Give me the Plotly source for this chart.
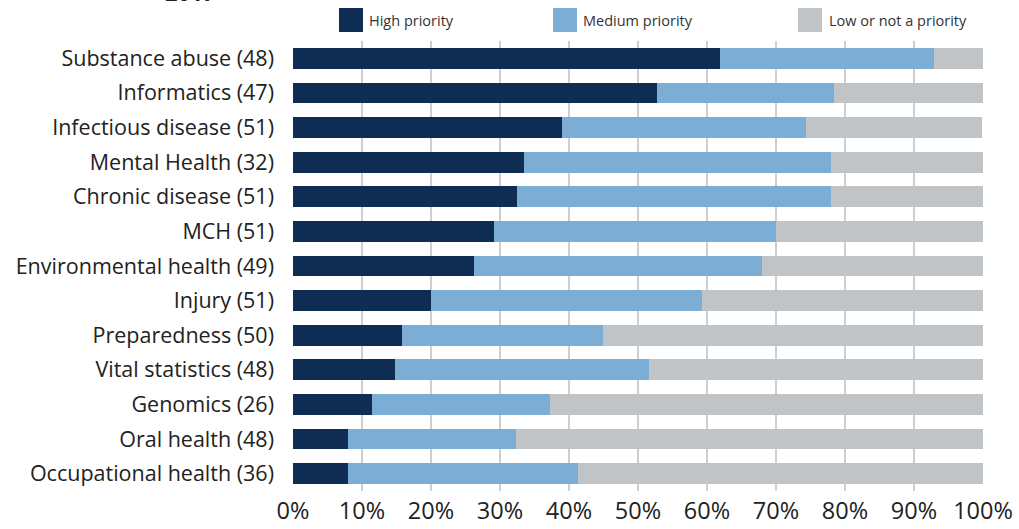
import plotly.graph_objects as go

categories = [
    "Substance abuse (48)", "Informatics (47)", "Infectious disease (51)",
    "Mental Health (32)", "Chronic disease (51)", "MCH (51)",
    "Environmental health (49)", "Injury (51)", "Preparedness (50)",
    "Vital statistics (48)", "Genomics (26)", "Oral health (48)",
    "Occupational health (36)",
]
high = [61.9, 52.8, 39.0, 33.5, 32.5, 29.2, 26.3, 20.0, 15.8, 14.8, 11.5, 8.0, 8.0]
medium = [31.0, 25.6, 35.3, 44.5, 45.5, 40.8, 41.6, 39.3, 29.1, 36.8, 25.8, 24.3, 33.3]
low = [7.1, 21.6, 25.6, 22.0, 22.0, 30.0, 32.1, 40.7, 55.1, 48.4, 62.7, 67.7, 58.7]
series_names = ["High priority", "Medium priority", "Low or not a priority"]
colors = ["#0f2d52", "#7badd5", "#c1c4c7"]
x_ticks = [0, 10, 20, 30, 40, 50, 60, 70, 80, 90, 100]
x_tick_labels = [f"{v}%" for v in x_ticks]

FONT = "Open Sans"
W, H = 1019, 529
L, R, T, B = 293, 36, 41, 38
pw, ph = W - L - R, H - T - B

def px(x):
    return (x - L) / pw

def py(y):
    return (H - B - y) / ph

fig = go.Figure()
for name, vals, col in zip(series_names, [high, medium, low], colors):
    fig.add_trace(go.Bar(
        y=categories, x=vals, name=name, orientation="h",
        marker=dict(color=col, line=dict(width=0)), width=0.6,
        showlegend=False, hoverinfo="x+y+name",
    ))

# custom legend
legend_pos = [(339, 367), (553, 581), (798, 827)]
shapes = []
annotations = []
for (sx, tx), name, col in zip(legend_pos, series_names, colors):
    shapes.append(dict(type="rect", xref="paper", yref="paper",
                       x0=px(sx), x1=px(sx + 24), y0=py(32), y1=py(8),
                       fillcolor=col, line=dict(width=0)))
    annotations.append(dict(xref="paper", yref="paper", x=px(tx), y=py(20),
                            xanchor="left", yanchor="middle", showarrow=False,
                            text=name, font=dict(family=FONT, size=14.5, color="#333333")))

annotations.append(dict(xref="paper", yref="paper", x=px(190), y=py(9),
                        xanchor="center", yanchor="bottom", showarrow=False,
                        text="<b>2017</b>", font=dict(family=FONT, size=22, color="#222222")))

fig.update_layout(
    width=W, height=H, barmode="stack",
    margin=dict(l=L, r=R, t=T, b=B, autoexpand=False),
    paper_bgcolor="white", plot_bgcolor="white",
    font=dict(family=FONT, color="#222222"),
    shapes=shapes, annotations=annotations,
    xaxis=dict(range=[0, 100], tickvals=x_ticks, ticktext=x_tick_labels,
               showgrid=True, gridcolor="#cfcfcf", gridwidth=1.5,
               zeroline=False, showline=False, ticks="",
               tickfont=dict(family=FONT, size=23.5, color="#222222"),
               ticklabelstandoff=3, fixedrange=True),
    yaxis=dict(autorange="reversed", showgrid=False, ticks="",
               showline=False, zeroline=False,
               tickfont=dict(family=FONT, size=21.5, color="#222222"),
               ticklabelstandoff=18, fixedrange=True),
)

fig.write_html("out.html", config={"displayModeBar": False},
               post_script="document.body.style.margin='0';document.body.style.padding='0';")
